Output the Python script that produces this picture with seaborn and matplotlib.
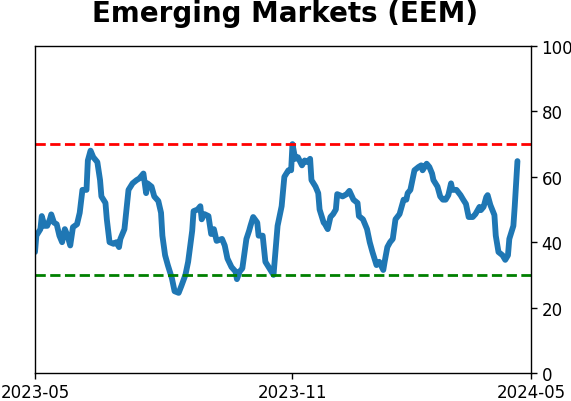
import numpy as np
import pandas as pd
import matplotlib
matplotlib.use("Agg")
import matplotlib.pyplot as plt
import seaborn as sns

# ---- data ----
start_date = "2023-05-01"
end_date = "2024-05-01"
day_offsets = [0, 1, 4, 5, 7, 9, 11, 12, 14, 16, 18, 20, 22, 24, 26, 28, 31, 33, 35, 38,
               39, 41, 43, 46, 48, 49, 52, 53, 55, 58, 60, 62, 63, 66, 69, 72, 75, 77, 80, 82,
               83, 86, 88, 91, 93, 94, 96, 98, 101, 103, 106, 108, 111, 113, 116, 117, 120, 122, 123, 125,
               128, 130, 132, 134, 138, 140, 142, 145, 148, 149, 151, 153, 156, 158, 159, 161, 164, 165, 168, 170,
               173, 176, 179, 182, 184, 187, 189, 190, 192, 194, 197, 199, 201, 203, 204, 207, 209, 210, 213, 214,
               216, 218, 220, 222, 223, 227, 230, 232, 235, 238, 239, 242, 244, 245, 247, 249, 252, 254, 257, 258,
               260, 262, 264, 266, 269, 272, 274, 275, 277, 280, 283, 285, 286, 289, 291, 293, 294, 297, 299, 301,
               303, 305, 307, 308, 311, 314, 316, 318, 320, 323, 325, 328, 329, 331, 333, 334, 336, 339, 340, 342,
               345, 347, 349, 350, 353, 354, 356]
values = [37, 42, 44, 48, 45, 45, 47, 48.5, 46, 45.5, 42, 40, 44, 42, 39, 44.6, 45.5, 49, 56, 56,
          65, 68, 66, 64.5, 59, 54, 52, 47, 40, 39.5, 40, 38.5, 41, 44, 56, 58, 59, 59.5, 61, 55,
          58, 57, 54, 52.6, 49, 42, 36, 33, 29, 25, 24.5, 26.6, 30, 34, 43.5, 49.5, 50, 51, 47, 48.6,
          48, 42.5, 44, 40.4, 41, 39, 35, 32.4, 31, 28.7, 31, 32, 41, 43.5, 45, 47.7, 46, 42, 42, 34,
          32, 30, 45, 51, 60, 62, 62, 70, 65.5, 66, 63.5, 65, 64.5, 65.5, 59, 57, 55, 50, 46, 45.5,
          44, 47.7, 48.6, 50, 54.7, 54, 54.7, 55.7, 53, 52, 48, 47, 45, 44, 40, 37, 33, 34, 31.5, 34,
          38.5, 40, 41, 47, 48.6, 53, 53, 55, 56, 62, 63, 63.5, 62, 64, 63, 61, 59, 57, 54, 53,
          53, 54.4, 58, 56, 56, 54.4, 53, 51.7, 47.7, 47.7, 48.6, 50.8, 49.8, 50.8, 53.8, 54.4, 51.4, 48.3, 42, 37,
          36, 34.6, 36, 41, 45, 51, 64.8]
upper_level = 70
lower_level = 30
title = "Emerging Markets (EEM)"
tick_dates = ["2023-05-01", "2023-11-07", "2024-05-01"]
tick_labels = ["2023-05", "2023-11", "2024-05"]
y_ticks = [0, 20, 40, 60, 80, 100]

df = pd.DataFrame({
    "date": pd.Timestamp(start_date) + pd.to_timedelta(day_offsets, unit="D"),
    "value": values,
})

sns.set_style("white")
plt.rcParams["font.family"] = ["DejaVu Sans"]
plt.rcParams["text.color"] = "black"

fig = plt.figure(figsize=(5.71, 4.02), dpi=100)
ax = fig.add_axes([35 / 571, 1 - 374 / 402, 496 / 571, 327 / 402])

sns.lineplot(data=df, x="date", y="value", ax=ax, color="#1f77b4", linewidth=4.2)
ax.axhline(upper_level, color="red", linestyle="--", linewidth=2)
ax.axhline(lower_level, color="green", linestyle="--", linewidth=2)

ax.set_xlim(pd.Timestamp(start_date), pd.Timestamp(end_date))
ax.set_ylim(0, 100)
ax.set_xticks(pd.to_datetime(tick_dates))
ax.set_xticklabels(tick_labels)
ax.set_yticks(y_ticks)
ax.yaxis.tick_right()
ax.set_xlabel("")
ax.set_ylabel("")
ax.tick_params(axis="both", labelsize=12, direction="out", length=4, width=1,
               bottom=True, right=True, left=False, colors="black")
for s in ax.spines.values():
    s.set_visible(True)
    s.set_color("black")
    s.set_linewidth(1)

fig.suptitle(title, fontsize=20, fontweight="bold", y=1 - 14 / 402, va="center",
             color="black")

fig.savefig("out.png", dpi=100)
